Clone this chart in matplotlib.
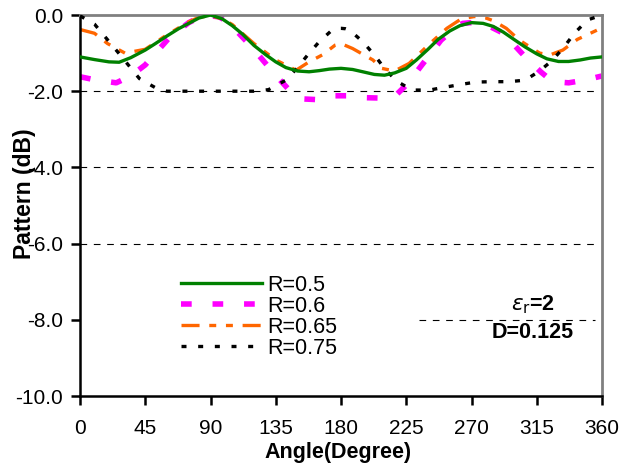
import matplotlib
matplotlib.use("Agg")
import matplotlib.pyplot as plt
from matplotlib.ticker import FuncFormatter

plt.rcParams['font.family'] = ['Liberation Sans', 'DejaVu Sans']
plt.rcParams['axes.unicode_minus'] = False
plt.rcParams['lines.scale_dashes'] = False

# ---- data ----
ang_r05 = [0, 10, 20, 27, 35, 45, 52, 60, 68, 75, 82, 90, 98, 105, 112, 120, 128,
           135, 142, 150, 158, 165, 172, 180, 188, 195, 203, 210, 217, 225, 232,
           240, 247, 255, 262, 270, 278, 285, 292, 300, 307, 315, 322, 330, 337,
           345, 352, 360]
pat_r05 = [-1.10, -1.17, -1.23, -1.24, -1.12, -0.92, -0.75, -0.55, -0.36, -0.22,
           -0.08, 0.00, -0.10, -0.28, -0.50, -0.80, -1.04, -1.23, -1.38, -1.47,
           -1.49, -1.46, -1.42, -1.40, -1.43, -1.49, -1.56, -1.58, -1.52, -1.40,
           -1.18, -0.90, -0.64, -0.42, -0.28, -0.20, -0.22, -0.30, -0.45, -0.66,
           -0.84, -1.02, -1.15, -1.22, -1.22, -1.18, -1.13, -1.10]

ang_r06 = [0, 10, 25, 35, 45, 61, 75, 82, 90, 96, 102, 118, 134, 145, 152, 163,
           174, 185, 196, 207, 218, 226, 234, 249, 260, 264, 270, 276, 280, 292,
           308, 318, 326, 337, 348, 360]
pat_r06 = [-1.62, -1.70, -1.78, -1.60, -1.31, -0.62, -0.20, -0.07, -0.02, -0.05,
           -0.18, -0.82, -1.54, -2.00, -2.20, -2.22, -2.12, -2.12, -2.17, -2.18,
           -2.10, -1.80, -1.40, -0.66, -0.30, -0.22, -0.20, -0.21, -0.25, -0.48,
           -1.14, -1.50, -1.75, -1.78, -1.71, -1.60]

ang_r065 = [0, 10, 19, 31, 45, 60, 75, 82, 90, 98, 105, 120, 135, 149, 158, 167,
            176, 180, 188, 202, 208, 217, 227, 241, 253, 263, 272, 280, 285, 294,
            303, 317, 324, 333, 343, 357, 360]
pat_r065 = [-0.38, -0.48, -0.75, -1.00, -0.90, -0.52, -0.18, -0.06, -0.02, -0.10,
            -0.25, -0.75, -1.18, -1.45, -1.23, -1.05, -0.79, -0.75, -0.88, -1.18,
            -1.40, -1.47, -1.27, -0.76, -0.35, -0.10, -0.04, -0.08, -0.15, -0.35,
            -0.66, -1.00, -1.05, -0.92, -0.64, -0.39, -0.38]

ang_r075 = [0, 10, 26, 41, 53, 60, 75, 90, 105, 120, 130, 142, 150, 157, 165, 174,
            177, 180, 183, 186, 195, 203, 211, 219, 229, 241, 251, 263, 273, 285,
            296, 307, 317, 326, 334, 341, 350, 360]
pat_r075 = [-0.02, -0.24, -0.97, -1.67, -1.93, -2.00, -2.00, -2.00, -2.00, -2.00,
            -1.96, -1.71, -1.38, -1.05, -0.70, -0.39, -0.35, -0.35, -0.36, -0.40,
            -0.70, -1.05, -1.45, -1.75, -1.97, -1.97, -1.90, -1.82, -1.76, -1.75,
            -1.75, -1.71, -1.47, -1.18, -0.83, -0.48, -0.13, 0.00]

labels = ['R=0.5', 'R=0.6', 'R=0.65', 'R=0.75']
x_ticks = [0, 45, 90, 135, 180, 225, 270, 315, 360]
y_ticks = [0, -2, -4, -6, -8, -10]
grid_levels = [-2, -4, -6]

# ---- figure ----
W, H = 622, 463
fig = plt.figure(figsize=(W / 100, H / 100), dpi=100)
ax = fig.add_axes([80 / W, 1 - 396 / H, 522 / W, 381 / H])

ax.hlines(grid_levels, 0, 355, colors='black', linewidth=0.8,
          linestyles=[(0, (4.8, 4.8))], zorder=1)
ax.hlines([-8], 234, 355, colors='black', linewidth=0.8,
          linestyles=[(0, (4.8, 4.8))], zorder=1)

ax.plot(ang_r05, pat_r05, color='#008000', lw=2.4, label=labels[0], zorder=3)
ax.plot(ang_r06, pat_r06, color='#FF00FF', lw=4.0, dashes=(7.7, 15),
        label=labels[1], zorder=2)
ax.plot(ang_r065, pat_r065, color='#FF6600', lw=2.4, dashes=(13, 7, 5, 7, 5, 7),
        label=labels[2], zorder=2.5)
ax.plot(ang_r075, pat_r075, color='black', lw=2.4, dashes=(3.6, 8.4),
        label=labels[3], zorder=2.6)

ax.set_xlim(0, 360)
ax.set_ylim(-10, 0)
ax.set_xticks(x_ticks)
ax.set_yticks(y_ticks)
ax.yaxis.set_major_formatter(FuncFormatter(lambda v, p: f'{v:.1f}' if v != 0 else '0.0'))
ax.tick_params(axis='both', direction='out', length=6.5, width=1.8,
               labelsize=15, colors='black')
ax.tick_params(axis='x', pad=10)
ax.tick_params(axis='y', pad=5.5)

for s in ['left', 'bottom']:
    ax.spines[s].set_color('black')
    ax.spines[s].set_linewidth(1.8)
for s in ['top', 'right']:
    ax.spines[s].set_color('#808080')
    ax.spines[s].set_linewidth(2.0)

ax.set_xlabel('Angle(Degree)', fontsize=15.5, fontweight='bold')
ax.xaxis.set_label_coords(0.495, -0.122)
ax.set_ylabel('Pattern (dB)', fontsize=16.5, fontweight='bold')
ax.yaxis.set_label_coords(-0.084, 0.53)

leg = ax.legend(loc='center left', bbox_to_anchor=(181 / W, 1 - 317 / H),
                bbox_transform=fig.transFigure, frameon=False, fontsize=15.5,
                handlelength=3.75, handletextpad=0.25, labelspacing=0.0,
                borderpad=0, borderaxespad=0)

ax.text(533 / W, 1 - 305 / H, r'$\varepsilon_{\rm r}$=2', transform=fig.transFigure,
        ha='center', va='center', fontsize=15.5, fontweight='bold')
ax.text(533 / W, 1 - 332 / H, 'D=0.125', transform=fig.transFigure,
        ha='center', va='center', fontsize=15.5, fontweight='bold')

fig.savefig('out.png', dpi=100)
